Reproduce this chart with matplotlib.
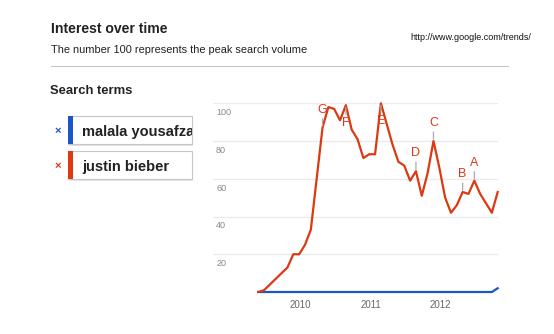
import numpy as np
import matplotlib
matplotlib.use('Agg')
import matplotlib.pyplot as plt
import matplotlib.transforms as mtrans
from matplotlib.patches import Rectangle
from matplotlib.lines import Line2D

plt.rcParams['font.family'] = ['Liberation Sans', 'DejaVu Sans']

# monthly search interest, starting late spring 2009
start_year = 2009 + 4.75 / 12
bieber = [0, 1, 4, 7, 10, 13, 20, 20, 25, 33, 60, 87, 98, 97, 91, 99, 86, 81,
          71, 73, 73, 100, 89, 78, 69, 67, 59, 64, 51, 63, 80, 66, 50, 42, 46,
          53, 52, 59, 52, 47, 42, 53]
malala = [0] * 41 + [2]
terms = ['malala yousafzai', 'justin bieber']
term_colors = ['#1a56c8', '#dc3912']

# news headline markers: letter, month index, placed above (1) or below (-1)
event_letters = ['G', 'F', 'E', 'D', 'C', 'B', 'A']
event_idx = [11, 15, 21, 27, 30, 35, 37]
event_side = [1, -1, -1, 1, 1, 1, 1]

years = [2010, 2011, 2012]
yticks = [20, 40, 60, 80, 100]

W, H = 554, 334
t = start_year + np.arange(len(bieber)) / 12


def px(x, y):
    return x / W, 1 - y / H


fig = plt.figure(figsize=(W / 100, H / 100), dpi=100)
fig.patch.set_facecolor('white')

# header
fig.text(*px(50.7, 32.7), 'Interest over time', fontsize=10.1, fontweight='bold',
         color='#222222', va='baseline')
fig.text(*px(50.7, 52.7), 'The number 100 represents the peak search volume',
         fontsize=7.95, color='#222222', va='baseline')
fig.text(*px(531, 40), 'http://www.google.com/trends/', fontsize=6.5,
         color='#111111', ha='right', va='baseline')
fig.add_artist(Line2D([50.7 / W, 508 / W], [1 - 66.3 / H] * 2, color='#c8c8c8', lw=0.8))
fig.text(*px(50.2, 94), 'Search terms', fontsize=9.4, fontweight='bold',
         color='#222222', va='baseline')

# search term boxes
for k, (term, col) in enumerate(zip(terms, term_colors)):
    top = 116 + k * 35
    x0, y0 = px(68.3, top + 28.3)
    # faint shadow under the box
    fig.add_artist(Rectangle((x0 + 0.8 / W, y0 - 1.2 / H), (192.3 - 68.3) / W, 28.3 / H,
                             transform=fig.transFigure, facecolor='#e4e4e4',
                             edgecolor='none'))
    fig.add_artist(Rectangle((x0, y0), (192.3 - 68.3) / W, 28.3 / H,
                             transform=fig.transFigure, facecolor='white',
                             edgecolor='#c6c6c6', lw=0.8))
    fig.add_artist(Rectangle((x0, y0), 4.5 / W, 28.3 / H, transform=fig.transFigure,
                             facecolor=col, edgecolor='none'))
    txt = fig.text(*px(82.3, top + 20), term, fontsize=10.5, fontweight='bold',
                   color='#222222', va='baseline')
    txt.set_clip_box(mtrans.TransformedBbox(
        mtrans.Bbox.from_extents(x0, y0, 191.5 / W, y0 + 28.3 / H), fig.transFigure))
    fig.text(*px(57.7, top + 14.5), '×', fontsize=8, fontweight='bold', color=col,
             ha='center', va='center')

# chart
ax = fig.add_axes([213.3 / W, 1 - 292 / H, (497.7 - 213.3) / W, (292 - 103.3) / H])
ax.set_xlim(start_year - 7.7 / 12, t[-1])
ax.set_ylim(0, 100)
for s in ax.spines.values():
    s.set_visible(False)
ax.set_yticks(yticks)
ax.yaxis.grid(True, color='#ebebeb', lw=1)
ax.set_axisbelow(True)
ax.tick_params(axis='y', length=0, pad=-2, labelsize=6.5, labelcolor='#888888')
for lab in ax.get_yticklabels():
    lab.set_horizontalalignment('left')
    lab.set_verticalalignment('top')
    lab.set_transform(lab.get_transform() + mtrans.ScaledTranslation(0, -3.5 / 72, fig.dpi_scale_trans))
ax.set_xticks(years)
ax.set_xticklabels([str(y) for y in years])
ax.tick_params(axis='x', length=0, pad=5.5, labelsize=7, labelcolor='#666666')

ax.plot(t, malala, color=term_colors[0], lw=1.6, clip_on=False, zorder=3)
ax.plot(t, bieber, color=term_colors[1], lw=1.6, clip_on=False, zorder=4)

for letter, i, side in zip(event_letters, event_idx, event_side):
    ax.annotate(letter, xy=(t[i], bieber[i]), xytext=(0, 12.8 * side),
                textcoords='offset points', ha='center', va='center',
                fontsize=9, color=term_colors[1], zorder=5,
                arrowprops=dict(arrowstyle='-', color='#aaaaaa', lw=0.9,
                                shrinkA=0, shrinkB=1.5))

fig.savefig('out.png', dpi=100)
